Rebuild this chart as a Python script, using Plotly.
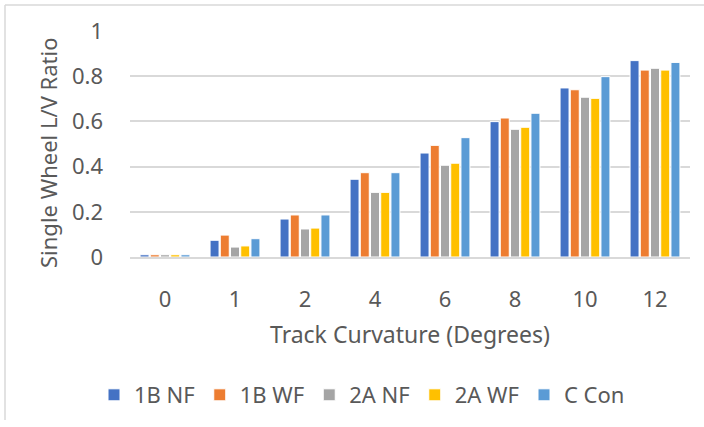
import plotly.graph_objects as go

curvature = ["0", "1", "2", "4", "6", "8", "10", "12"]
series_names = ["1B NF", "1B WF", "2A NF", "2A WF", "C Con"]
b1_nf = [0.01, 0.074, 0.168, 0.344, 0.460, 0.599, 0.748, 0.869]
b1_wf = [0.01, 0.097, 0.186, 0.373, 0.494, 0.615, 0.740, 0.827]
a2_nf = [0.01, 0.044, 0.124, 0.286, 0.406, 0.565, 0.707, 0.835]
a2_wf = [0.01, 0.049, 0.128, 0.286, 0.415, 0.574, 0.702, 0.827]
c_con = [0.01, 0.081, 0.186, 0.373, 0.528, 0.636, 0.798, 0.861]
colors = ["#4472C4", "#ED7D31", "#A5A5A5", "#FFC000", "#5B9BD5"]

FONT = "Noto Sans"
GRAY_TEXT = "#595959"
FS = 22

# plot area in pixels
L, R, T, B = 130, 690, 31, 257
PW, PH = R - L, B - T
W, H = 704, 427


def px_x(x):
    return (x - L) / PW


def px_y(y):
    return (B - y) / PH


fig = go.Figure()
for name, vals, col in zip(series_names, [b1_nf, b1_wf, a2_nf, a2_wf, c_con], colors):
    fig.add_trace(go.Bar(
        x=curvature, y=vals, name=name,
        marker=dict(color=col, line=dict(color="white", width=1)),
    ))

fig.update_layout(
    width=W, height=H,
    margin=dict(l=L, r=W - R, t=T, b=H - B, autoexpand=False),
    paper_bgcolor="white", plot_bgcolor="white",
    barmode="group", bargap=0.27, bargroupgap=0.12,
    font=dict(family=FONT, color=GRAY_TEXT, size=FS),
    showlegend=True,
    legend=dict(
        orientation="h", x=px_x(362), xanchor="center", y=px_y(395), yanchor="middle",
        font=dict(size=FS, color=GRAY_TEXT), itemwidth=30, tracegroupgap=0,
    ),
)
fig.update_xaxes(
    type="category", showgrid=False, showline=True, linecolor="#d9d9d9", linewidth=1.5,
    ticks="", ticklabelstandoff=22, tickfont=dict(size=FS, color=GRAY_TEXT),
)
fig.update_yaxes(
    range=[0, 1.0], tickvals=[0, 0.2, 0.4, 0.6, 0.8, 1.0],
    ticktext=["0", "0.2", "0.4", "0.6", "0.8", "1"],
    showgrid=True, gridcolor="#d9d9d9", gridwidth=1.5, zeroline=False,
    showline=False, ticks="", ticklabelstandoff=26,
    tickfont=dict(size=FS, color=GRAY_TEXT),
)

# axis titles placed as annotations
fig.add_annotation(
    text="Single Wheel L/V Ratio", textangle=-90, xref="paper", yref="paper",
    x=px_x(48), y=px_y(153), xanchor="center", yanchor="middle",
    showarrow=False, font=dict(size=FS, color=GRAY_TEXT),
)
fig.add_annotation(
    text="Track Curvature (Degrees)", xref="paper", yref="paper",
    x=px_x(410), y=px_y(334), xanchor="center", yanchor="middle",
    showarrow=False, font=dict(size=FS + 1, color=GRAY_TEXT),
)

# chart frame: left and top edges
fig.add_shape(type="line", xref="paper", yref="paper",
              x0=px_x(5), x1=px_x(5), y0=px_y(420), y1=px_y(5),
              line=dict(color="#d9d9d9", width=1.5))
fig.add_shape(type="line", xref="paper", yref="paper",
              x0=px_x(5), x1=px_x(704), y0=px_y(5), y1=px_y(5),
              line=dict(color="#d9d9d9", width=1.5))

fig.write_html("out.html")
